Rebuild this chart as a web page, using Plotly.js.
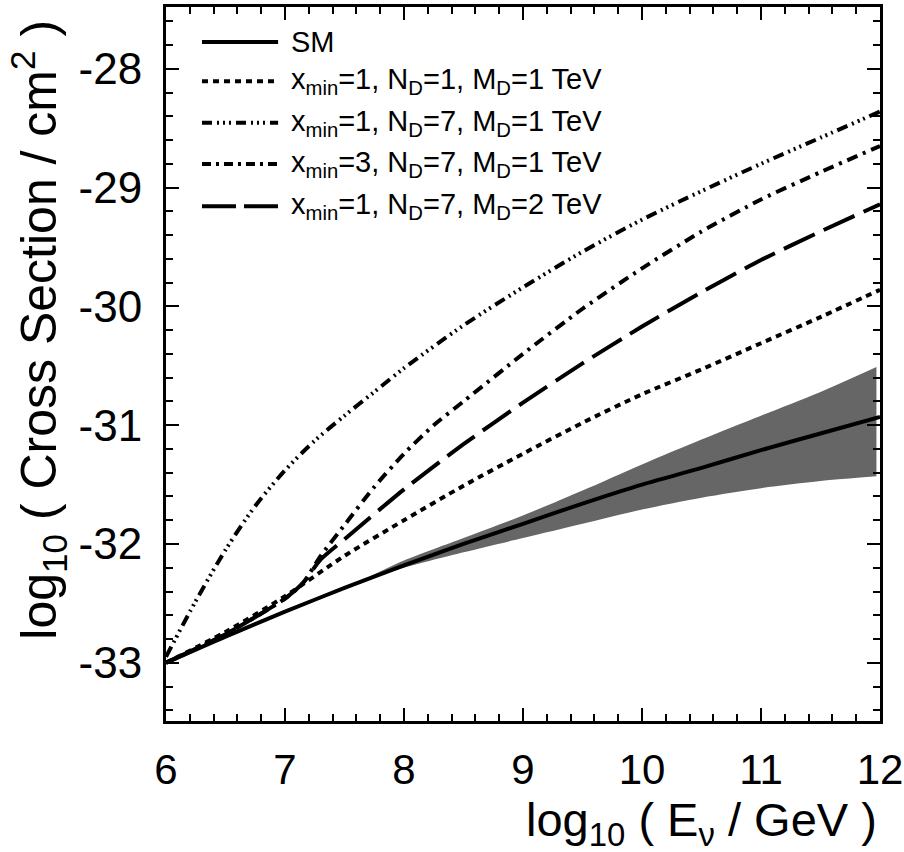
<!DOCTYPE html>
<html>
<head>
<meta charset="utf-8">
<script src="https://cdn.plot.ly/plotly-3.0.1.min.js"></script>
<style>html,body{margin:0;padding:0;background:#fff;}#chart{width:904px;height:852px;}</style>
</head>
<body>
<div id="chart"></div>
<script>
// ---- data (log10 E / GeV  vs  log10 cross section / cm^2) ----
const xSM = [6, 6.5, 7, 7.5, 8, 8.5, 9, 9.5, 10, 10.5, 11, 11.5, 12];
const ySM = [-33, -32.78, -32.57, -32.37, -32.18, -32.0, -31.83, -31.66, -31.5, -31.36, -31.21, -31.07, -30.93];

const xBand = [7.6, 8, 8.5, 9, 9.5, 10, 10.5, 11, 11.5, 11.97];
const bandUpper = [-32.33, -32.14, -31.95, -31.76, -31.55, -31.33, -31.12, -30.92, -30.72, -30.51];
const bandLower = [-32.33, -32.2, -32.07, -31.95, -31.83, -31.71, -31.61, -31.53, -31.47, -31.43];

const xN1 = [6, 6.5, 7, 7.5, 8, 8.5, 9, 9.5, 10, 10.5, 11, 11.5, 12];
const yN1 = [-33, -32.74, -32.44, -32.1, -31.8, -31.51, -31.24, -30.98, -30.74, -30.53, -30.31, -30.09, -29.86];

const xN7 = [6, 6.25, 6.5, 6.75, 7, 7.25, 7.5, 7.75, 8, 8.5, 9, 9.5, 10, 10.5, 11, 11.5, 12];
const yN7 = [-32.95, -32.48, -32.05, -31.68, -31.38, -31.13, -30.92, -30.72, -30.52, -30.16, -29.84, -29.54, -29.27, -29.03, -28.8, -28.58, -28.36];

const xX3 = [6, 6.5, 7, 7.15, 7.3, 7.5, 7.75, 8, 8.25, 8.5, 9, 9.5, 10, 10.5, 11, 11.5, 12];
const yX3 = [-33, -32.76, -32.46, -32.33, -32.1, -31.84, -31.52, -31.24, -31.0, -30.8, -30.4, -30.02, -29.68, -29.37, -29.1, -28.87, -28.65];

const xM2 = [6, 6.5, 7, 7.15, 7.3, 7.5, 8, 8.5, 9, 9.5, 10, 10.5, 11, 11.5, 12];
const yM2 = [-33, -32.76, -32.46, -32.33, -32.13, -31.96, -31.54, -31.16, -30.81, -30.48, -30.17, -29.88, -29.61, -29.37, -29.14];

const legendLabels = [
  'SM',
  'x<sub>min</sub>=1, N<sub>D</sub>=1, M<sub>D</sub>=1 TeV',
  'x<sub>min</sub>=1, N<sub>D</sub>=7, M<sub>D</sub>=1 TeV',
  'x<sub>min</sub>=3, N<sub>D</sub>=7, M<sub>D</sub>=1 TeV',
  'x<sub>min</sub>=1, N<sub>D</sub>=7, M<sub>D</sub>=2 TeV'
];
const xTickVals = [6, 7, 8, 9, 10, 11, 12];
const xTickText = ['6', '7', '8', '9', '10', '11', '12'];
const yTickVals = [-33, -32, -31, -30, -29, -28];
const yTickText = ['-33', '-32', '-31', '-30', '-29', '-28'];

// ---- styling ----
const FONT = '"Liberation Sans", Arial, sans-serif';
const dashes = ['solid', '6px,5px', '11px,5px,2px,4px,2px,4px,2px,5px', '11px,6px,3px,6px', '34px,10px'];
const legDashes = ['solid', '6px,5px', '10px,5px,2px,4px,2px,4px,2px,5px', '9px,5px,3px,5px', '34px,8px'];
const SPL = {shape: 'spline', smoothing: 0.8};

const traces = [
  {x: xBand, y: bandLower, mode: 'lines', line: Object.assign({width: 0, color: '#666'}, SPL), showlegend: false, hoverinfo: 'skip'},
  {x: xBand, y: bandUpper, mode: 'lines', fill: 'tonexty', fillcolor: '#666666', line: Object.assign({width: 0, color: '#666'}, SPL), showlegend: false, hoverinfo: 'skip'},
  {x: xN1, y: yN1, mode: 'lines', name: legendLabels[1], line: Object.assign({color: '#000', width: 4, dash: dashes[1]}, SPL), showlegend: false},
  {x: xN7, y: yN7, mode: 'lines', name: legendLabels[2], line: Object.assign({color: '#000', width: 4, dash: dashes[2]}, SPL), showlegend: false},
  {x: xX3, y: yX3, mode: 'lines', name: legendLabels[3], line: {color: '#000', width: 4, dash: dashes[3], shape: 'spline', smoothing: 0.6}, showlegend: false},
  {x: xM2, y: yM2, mode: 'lines', name: legendLabels[4], line: {color: '#000', width: 4, dash: dashes[4], shape: 'spline', smoothing: 0.6}, showlegend: false},
  {x: xSM, y: ySM, mode: 'lines', name: legendLabels[0], line: Object.assign({color: '#000', width: 4}, SPL), showlegend: false}
];

// manual legend (long line samples like the original)
const legRowsY = [0.951, 0.896, 0.838, 0.780, 0.721];
const shapes = [];
const annotations = [];
legendLabels.forEach((lab, i) => {
  shapes.push({type: 'line', xref: 'paper', yref: 'paper', x0: 0.0504, x1: 0.157, y0: legRowsY[i], y1: legRowsY[i],
    line: {color: '#000', width: 4, dash: legDashes[i]}});
  annotations.push({xref: 'paper', yref: 'paper', x: 0.172, y: legRowsY[i], xanchor: 'left', yanchor: 'middle',
    text: lab, showarrow: false, font: {family: FONT, size: 29, color: '#000'}});
});
annotations.push({xref: 'paper', yref: 'paper', x: 0.999, y: -0.098, xanchor: 'right', yanchor: 'top',
  text: 'log<sub>10</sub> ( E<sub>ν</sub> / GeV )', showarrow: false, font: {family: FONT, size: 47, color: '#000'}});
annotations.push({xref: 'paper', yref: 'paper', x: -0.178, y: 0.548, xanchor: 'center', yanchor: 'middle', textangle: -90,
  text: 'log<sub>10</sub> ( Cross Section / cm<sup>2</sup> )', showarrow: false, font: {family: FONT, size: 50, color: '#000'}});

const axisCommon = {
  showgrid: false, zeroline: false, showline: true, linecolor: '#000', linewidth: 3, mirror: 'ticks',
  ticks: 'inside', ticklen: 13, tickwidth: 2, tickcolor: '#000', tickmode: 'array',
  minor: {ticks: 'inside', ticklen: 7, tickwidth: 2, tickcolor: '#000', dtick: 0.2, showgrid: false}
};

const layout = {
  width: 904, height: 852,
  margin: {l: 166, r: 24, t: 7, b: 131, pad: 0},
  paper_bgcolor: '#fff', plot_bgcolor: '#fff',
  showlegend: false,
  xaxis: Object.assign({}, axisCommon, {range: [6, 12], tickvals: xTickVals, ticktext: xTickText, ticklabelstandoff: 10,
    tickfont: {family: FONT, size: 42, color: '#000'},
    minor: Object.assign({}, axisCommon.minor, {tick0: 6})}),
  yaxis: Object.assign({}, axisCommon, {range: [-33.49, -27.48], tickvals: yTickVals, ticktext: yTickText, ticklabelstandoff: 12,
    tickfont: {family: FONT, size: 44, color: '#000'},
    minor: Object.assign({}, axisCommon.minor, {tick0: -33})}),
  shapes: shapes,
  annotations: annotations
};

Plotly.newPlot('chart', traces, layout, {displayModeBar: false, staticPlot: true});
</script>
</body>
</html>
